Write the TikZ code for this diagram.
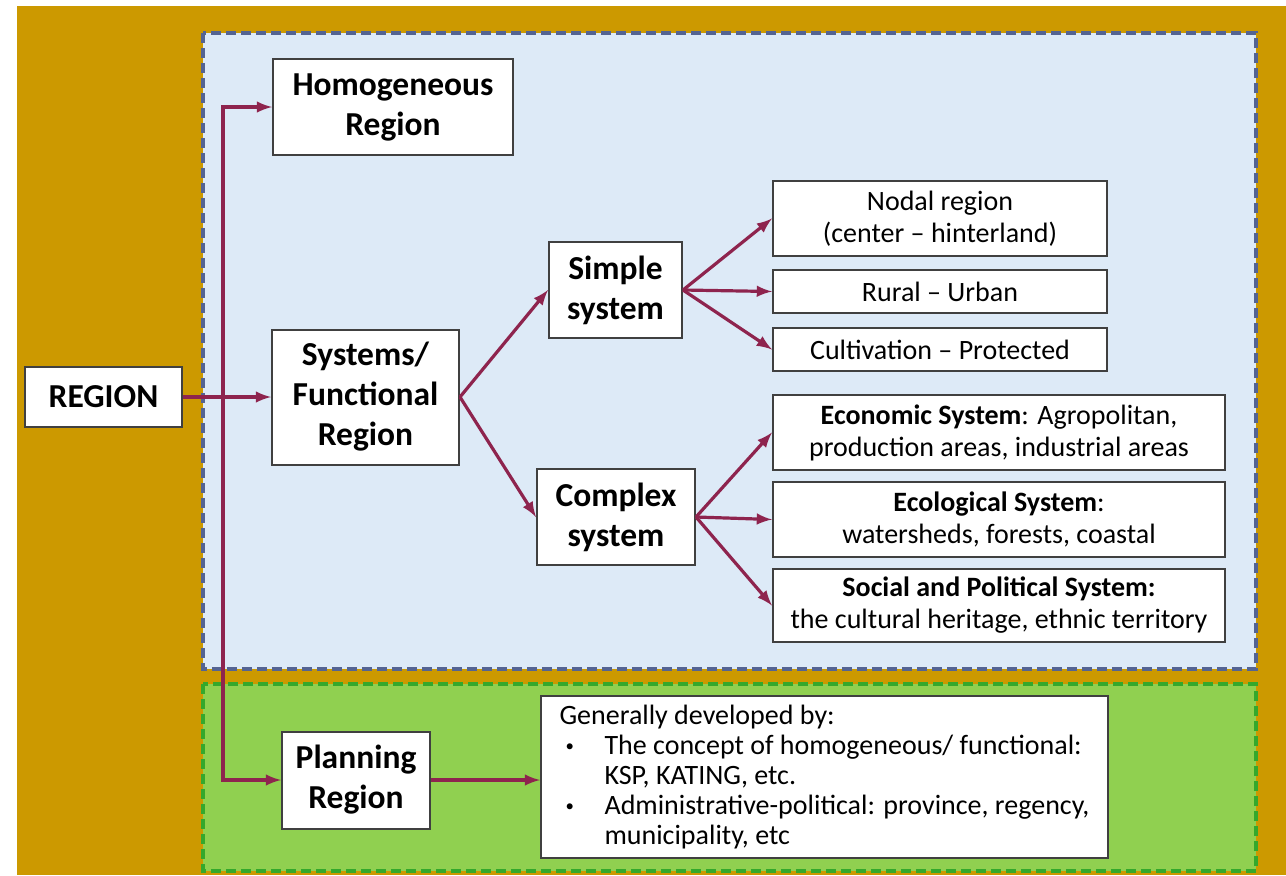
\documentclass[tikz,border=0pt]{standalone}
\usepackage{fontspec}
\setmainfont{Carlito}
\usetikzlibrary{positioning}
\definecolor{gold}{RGB}{204,153,0}
\definecolor{paleblue}{RGB}{221,234,247}
\definecolor{panelblue}{RGB}{84,100,146}
\definecolor{leafgreen}{RGB}{144,208,80}
\definecolor{darkgreen}{RGB}{52,168,44}
\definecolor{maroon}{RGB}{142,36,78}
\definecolor{boxgrey}{RGB}{64,64,64}
\newcommand{\smallbullet}{\makebox[22.5pt][l]{\hspace*{3pt}\raisebox{1.6pt}{\scalebox{0.6}{\textbullet}}}}

\begin{document}
\begin{tikzpicture}
  [x=0.5pt, y=-0.5pt, node distance=6pt,
  line/.style={draw, -latex, draw=maroon, line width=1.6pt},
  block/.style={rectangle, draw=boxgrey, line width=1pt, fill=white, inner sep=0pt, align=center, font=\fontsize{16.75}{20}\selectfont\bfseries},
  leaf/.style={rectangle, draw=boxgrey, line width=1pt, fill=white, inner sep=0pt, align=center, font=\fontsize{14}{16}\selectfont},
  panel/.style={line width=2pt, dash pattern=on 5pt off 2.5pt}]
  % background and panels
  \fill [white] (0,0) rectangle (1286,875);
  \fill [gold] (17,6) rectangle (1286,875);
  \useasboundingbox (0,0) rectangle (1286,875);
  \filldraw [panel, fill=paleblue, draw=panelblue] (203,33) rectangle (1256,669);
  \filldraw [panel, fill=leafgreen, draw=darkgreen] (203,684) rectangle (1256,871);

  % nodes
  \node [block, minimum width=78.5pt, minimum height=30pt] (region) at (103.5,397) {REGION};
  \node [block, minimum width=120pt, minimum height=48pt] (homog) at (393,107) {Homogeneous\\Region};
  \node [block, minimum width=93.5pt, minimum height=67.5pt] (funct) at (365.5,397) {Systems/\\Functional\\Region};
  \node [block, minimum width=66.5pt, minimum height=48pt] (simple) at (615.5,290) {Simple\\system};
  \node [block, minimum width=79pt, minimum height=48pt] (complex) at (616,517) {Complex\\system};
  \node [block, minimum width=74pt, minimum height=48.5pt] (planning) at (356,780) {Planning\\Region};

  \node [leaf, minimum width=167pt, minimum height=37.5pt] (nodal) at (940,218.5) {Nodal region\\(center -- hinterland)};
  \node [leaf, minimum width=167pt, minimum height=21.5pt, below=of nodal] (rural) {Rural -- Urban};
  \node [leaf, minimum width=167pt, minimum height=21.5pt, below=6.5pt of rural] (cultiv) {Cultivation -- Protected};

  \node [leaf, minimum width=226pt, minimum height=37.5pt] (econ) at (999,432.5) {\textbf{Economic System}: Agropolitan,\\production areas, industrial areas};
  \node [leaf, minimum width=226pt, minimum height=37.5pt, below=5pt of econ] (ecol) {\textbf{Ecological System}:\\watersheds, forests, coastal};
  \node [leaf, minimum width=226pt, minimum height=36.5pt, below=5pt of ecol] (social) {\textbf{Social and Political System:}\\the cultural heritage, ethnic territory};

  \node [leaf, align=left, minimum width=283.5pt, minimum height=81pt, font=\fontsize{14}{15}\selectfont] (general) at (824.5,777)
    {Generally developed by:\\
     \smallbullet The concept of homogeneous/ functional:\\
     \hspace*{22.5pt}KSP, KATING, etc.\\
     \smallbullet Administrative-political: province, regency,\\
     \hspace*{22.5pt}municipality, etc};

  \coordinate (split) at (223,397);

  % edges
  \path [line] (region) -- (funct);
  \path [line] (split) |- (homog);
  \path [line] (split) |- (planning);
  \path [line] (funct.east) -- (simple.west);
  \path [line] (funct.east) -- (complex.west);
  \path [line] (simple.east) -- (nodal.west);
  \path [line] (simple.east) -- (rural.west);
  \path [line] (simple.east) -- (cultiv.west);
  \path [line] (complex.east) -- (econ.west);
  \path [line] (complex.east) -- (ecol.west);
  \path [line] (complex.east) -- (social.west);
  \path [line] (planning.east) -- (planning.east -| general.west);

\end{tikzpicture}
\end{document}
